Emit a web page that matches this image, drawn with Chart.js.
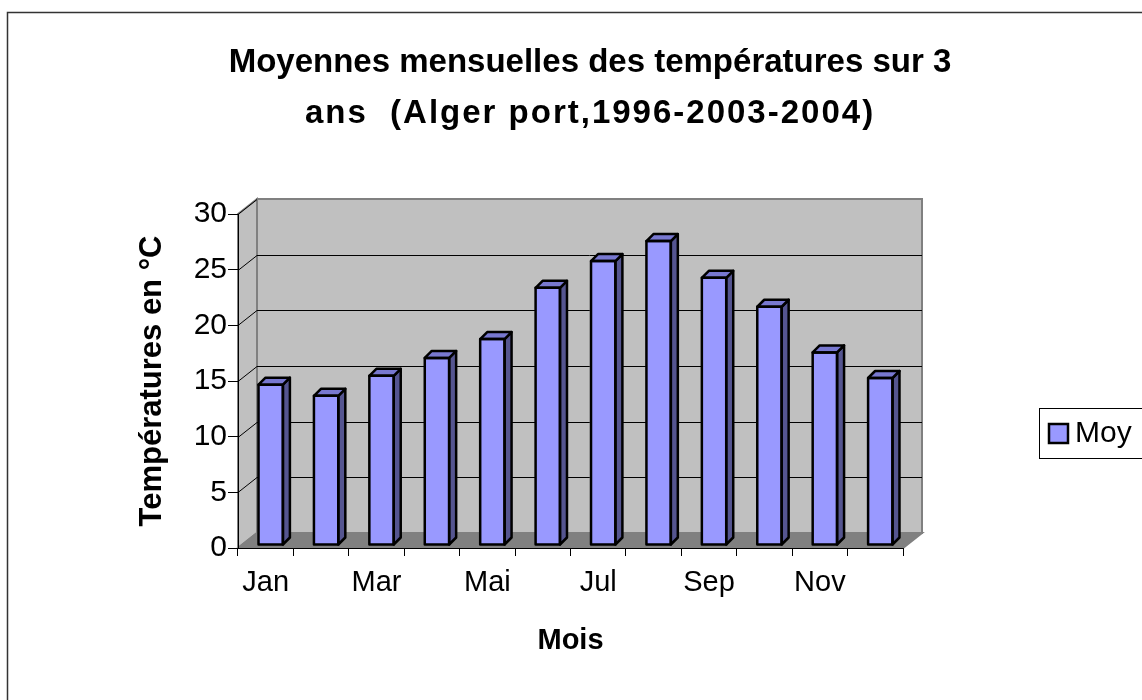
<!DOCTYPE html>
<html><head><meta charset="utf-8">
<script src="https://cdn.jsdelivr.net/npm/chart.js@4"></script>
<style>html,body{margin:0;padding:0;background:#fff;overflow:hidden}</style>
</head><body>
<canvas id="c" width="1142" height="700"></canvas>
<script>
const months = ['Jan','Fév','Mar','Avr','Mai','Juin','Jul','Aoû','Sep','Oct','Nov','Déc'];
const moy = [14.4, 13.4, 15.2, 16.8, 18.5, 23.1, 25.5, 27.3, 24.0, 21.4, 17.3, 15.0];
const seriesName = 'Moy';
const titleLines = ['Moyennes mensuelles des températures sur 3', 'ans  (Alger port,1996-2003-2004)'];
const yTitle = 'Températures en °C';
const xTitle = 'Mois';
const yMin = 0, yMax = 30, yStep = 5;

const FONT = "'Liberation Sans', Arial, sans-serif";
const DX = 19, DY = -15;      // depth of walls
const BDX = 5, BDY = -3;      // bar position in depth
const BD = 7;                 // bar depth

const decor = {
  id: 'decor',
  beforeDraw(chart) {
    const ctx = chart.ctx, a = chart.chartArea, ys = chart.scales.y;
    ctx.save();
    ctx.fillStyle = '#fff';
    ctx.fillRect(0, 0, chart.width, chart.height);
    // frame (chart area border, cropped at right and bottom)
    ctx.strokeStyle = '#333'; ctx.lineWidth = 1.5;
    ctx.strokeRect(7.5, 12.5, 1200, 720);
    // side wall
    ctx.fillStyle = '#c0c0c0'; ctx.strokeStyle = '#808080'; ctx.lineWidth = 2;
    ctx.beginPath();
    ctx.moveTo(a.left, a.top); ctx.lineTo(a.left + DX, a.top + DY);
    ctx.lineTo(a.left + DX, a.bottom + DY); ctx.lineTo(a.left, a.bottom); ctx.closePath();
    ctx.fill(); ctx.stroke();
    // back wall
    ctx.beginPath();
    ctx.rect(a.left + DX, a.top + DY, a.right - a.left, a.bottom - a.top);
    ctx.fill(); ctx.stroke();
    // floor
    ctx.fillStyle = '#808080';
    ctx.beginPath();
    ctx.moveTo(a.left, a.bottom); ctx.lineTo(a.left + DX, a.bottom + DY);
    ctx.lineTo(a.right + DX, a.bottom + DY); ctx.lineTo(a.right, a.bottom); ctx.closePath();
    ctx.fill(); ctx.stroke();
    // gridlines on back wall + diagonals on side wall
    ctx.strokeStyle = '#000'; ctx.lineWidth = 1;
    ys.ticks.forEach(t => {
      const y = Math.round(ys.getPixelForValue(t.value)) + 0.5;
      if (t.value > yMin && t.value < yMax) {
        ctx.beginPath();
        ctx.moveTo(a.left + DX, y + DY); ctx.lineTo(a.right + DX, y + DY); ctx.stroke();
      }
      if (t.value > yMin) {
        ctx.beginPath();
        ctx.moveTo(a.left, y); ctx.lineTo(a.left + DX, y + DY); ctx.stroke();
      }
    });
    // title
    ctx.fillStyle = '#000';
    ctx.font = 'bold 33px ' + FONT;
    ctx.textAlign = 'center'; ctx.textBaseline = 'alphabetic';
    ctx.fillText(titleLines[0], 590, 72);
    if ('letterSpacing' in ctx) ctx.letterSpacing = '2px';
    ctx.fillText(titleLines[1], 590, 123);
    if ('letterSpacing' in ctx) ctx.letterSpacing = '0px';
    // legend
    ctx.fillStyle = '#fff'; ctx.strokeStyle = '#000'; ctx.lineWidth = 1;
    ctx.fillRect(1039.5, 408.5, 120, 50);
    ctx.strokeRect(1039.5, 408.5, 120, 50);
    ctx.fillStyle = '#9999ff'; ctx.lineWidth = 2.5;
    ctx.fillRect(1049, 424, 19, 19);
    ctx.strokeRect(1049, 424, 19, 19);
    ctx.fillStyle = '#000';
    ctx.font = '30px ' + FONT;
    ctx.textAlign = 'left'; ctx.textBaseline = 'middle';
    ctx.fillText(seriesName, 1075, 434);
    ctx.restore();
  },
  beforeDatasetsDraw(chart) {
    chart.ctx.save();
    chart.ctx.translate(BDX, BDY);
  },
  afterDatasetsDraw(chart) {
    const ctx = chart.ctx;
    const meta = chart.getDatasetMeta(0);
    ctx.lineWidth = 2.5; ctx.strokeStyle = '#000'; ctx.lineJoin = 'round';
    meta.data.forEach(el => {
      const p = el.getProps(['x', 'y', 'base', 'width'], true);
      const l = p.x - p.width / 2, r = p.x + p.width / 2;
      ctx.fillStyle = '#555590';
      ctx.beginPath();
      ctx.moveTo(r, p.y); ctx.lineTo(r + BD, p.y - BD);
      ctx.lineTo(r + BD, p.base - BD); ctx.lineTo(r, p.base); ctx.closePath();
      ctx.fill(); ctx.stroke();
      ctx.fillStyle = '#7878d0';
      ctx.beginPath();
      ctx.moveTo(l, p.y); ctx.lineTo(l + BD, p.y - BD);
      ctx.lineTo(r + BD, p.y - BD); ctx.lineTo(r, p.y); ctx.closePath();
      ctx.fill(); ctx.stroke();
      ctx.strokeRect(l, p.y, p.width, p.base - p.y);
    });
    ctx.restore();
  }
};

new Chart(document.getElementById('c'), {
  type: 'bar',
  data: {
    labels: months,
    datasets: [{
      label: seriesName,
      data: moy,
      backgroundColor: '#9999ff',
      borderColor: '#000',
      borderWidth: 0,
      categoryPercentage: 1,
      barPercentage: 0.44,
      clip: false
    }]
  },
  options: {
    responsive: false,
    animation: false,
    devicePixelRatio: 1,
    layout: { padding: { left: 130, top: 214, right: 239, bottom: 35 } },
    plugins: { legend: { display: false }, title: { display: false }, tooltip: { enabled: false } },
    scales: {
      x: {
        grid: { drawOnChartArea: false, drawTicks: true, tickLength: 8, color: '#000', offset: true },
        border: { display: true, color: '#000', width: 1 },
        ticks: {
          color: '#000', font: { family: FONT, size: 29 }, padding: 10,
          autoSkip: false, maxRotation: 0,
          callback: (v, i) => (i % 2 === 0 ? months[i] : '')
        },
        title: { display: true, text: xTitle, color: '#000', font: { family: FONT, size: 29, weight: 'bold' }, padding: { top: 0, bottom: 7 } },
        afterFit: s => { s.height = 117; }
      },
      y: {
        min: yMin, max: yMax,
        grid: { drawOnChartArea: false, drawTicks: true, tickLength: 10, color: '#000' },
        border: { display: true, color: '#000', width: 1 },
        ticks: { stepSize: yStep, color: '#000', font: { family: FONT, size: 30 }, padding: 1 },
        title: { display: true, text: yTitle, color: '#000', font: { family: FONT, size: 31, weight: 'bold' }, padding: { top: 4, bottom: 0 } },
        afterFit: s => { s.width = 108; }
      }
    }
  },
  plugins: [decor]
});
</script>
</body></html>
